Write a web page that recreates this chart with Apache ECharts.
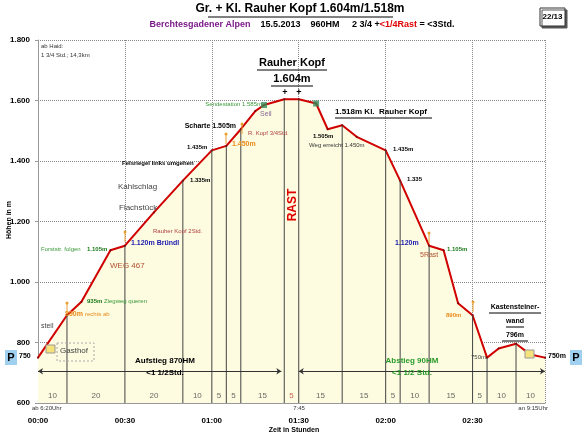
<!DOCTYPE html>
<html style="height:100%">
<head>
<meta charset="utf-8">
<script src="https://cdn.jsdelivr.net/npm/echarts@6/dist/echarts.min.js"></script>
</head>
<body style="height:100%;margin:0;background:#fff">
<div id="main" style="width:588px;height:440px"></div>
<script>
// profile: minutes since start, elevation in m
var times = [0, 10, 15, 25, 30, 40, 50, 60, 65, 70, 75, 78, 85, 90, 96, 100, 105, 110, 120, 125, 135, 140, 145, 150, 155, 159, 165, 170, 175];
var heights = [750, 890, 935, 1105, 1120, 1230, 1335, 1435, 1450, 1505, 1565, 1585, 1604, 1604, 1590, 1505, 1518, 1480, 1435, 1335, 1120, 1105, 930, 890, 750, 780, 796, 760, 750];
// section boundaries and durations
var sectionTimes = [10, 30, 50, 60, 65, 70, 85, 90, 105, 120, 125, 135, 150, 155, 165];
var sectionHeights = [890, 1120, 1335, 1435, 1450, 1505, 1604, 1604, 1518, 1435, 1335, 1120, 890, 750, 796];
var segMid = [5, 20, 40, 55, 62.5, 67.5, 77.5, 87.5, 97.5, 112.5, 122.5, 130, 142.5, 152.5, 160, 170];
var segLabels = ['10', '20', '20', '10', '5', '5', '15', '5', '15', '15', '5', '10', '15', '5', '10', '10'];

var F = 'Arial, "Liberation Sans", sans-serif';
function t(x, y, text, style) {
  return { type: 'text', z: 100, x: x, y: y, style: Object.assign({ text: text, font: '7px ' + F, fill: '#333' }, style || {}) };
}
function line(x1, y1, x2, y2, c) {
  return { type: 'line', z: 100, shape: { x1: x1, y1: y1, x2: x2, y2: y2 }, style: { stroke: c || '#000', lineWidth: 1 } };
}
function pbox(x) {
  return { type: 'group', z: 100, children: [
    { type: 'rect', z: 100, shape: { x: x, y: 350, width: 12, height: 15 }, style: { fill: '#9fd0f0' } },
    t(x + 6, 357.5, 'P', { font: 'bold 11px ' + F, fill: '#000', align: 'center', verticalAlign: 'middle' })
  ] };
}
function pin(x, y) {
  return { type: 'group', z: 100, children: [
    line(x, y, x, y + 10, '#e8a030'),
    { type: 'circle', z: 100, shape: { cx: x, cy: y, r: 1.5 }, style: { fill: '#e8a030' } }
  ] };
}

var option = {
  animation: false,
  grid: { left: 38, right: 43, top: 40, bottom: 37 },
  xAxis: {
    type: 'value', min: 0, max: 175, interval: 30,
    axisLine: { lineStyle: { color: '#999' } },
    axisTick: { show: false },
    axisLabel: { fontFamily: F, fontSize: 8, fontWeight: 'bold', color: '#000', margin: 14, showMaxLabel: false,
      formatter: function (v) { var h = Math.floor(v / 60), m = v % 60; return '0' + h + ':' + (m < 10 ? '0' : '') + m; } },
    splitLine: { show: true, lineStyle: { type: 'dotted', color: '#888' } }
  },
  yAxis: {
    type: 'value', min: 600, max: 1800, interval: 200,
    axisLine: { show: true, lineStyle: { color: '#999' } },
    axisTick: { show: true, length: 3 },
    axisLabel: { fontFamily: F, fontSize: 8, fontWeight: 'bold', color: '#000',
      formatter: function (v) { return v >= 1000 ? String(v).replace(/(\d)(\d{3})$/, '$1.$2') : String(v); } },
    splitLine: { show: true, lineStyle: { type: 'dotted', color: '#888' } }
  },
  series: [
    {
      type: 'line', data: times.map(function (x, i) { return [x, heights[i]]; }),
      symbol: 'circle', symbolSize: 2, showSymbol: true,
      itemStyle: { color: '#800000' },
      lineStyle: { color: '#d00000', width: 2 },
      areaStyle: { color: '#fdfbe0', opacity: 1 },
      z: 2,
      markLine: {
        silent: true, symbol: ['arrow', 'arrow'], symbolSize: 5, label: { show: false },
        lineStyle: { color: '#333', type: 'solid', width: 1 },
        data: [
          [{ coord: [0, 705] }, { coord: [84, 705] }],
          [{ coord: [90, 705] }, { coord: [175, 705] }]
        ]
      }
    },
    {
      type: 'custom', z: 3, silent: true,
      data: sectionTimes.map(function (x, i) { return [x, sectionHeights[i]]; }),
      renderItem: function (params, api) {
        var top = api.coord([api.value(0), api.value(1)]);
        var bot = api.coord([api.value(0), 600]);
        return { type: 'line', shape: { x1: top[0], y1: top[1], x2: bot[0], y2: bot[1] }, style: { stroke: '#444', lineWidth: 1 } };
      }
    },
    {
      type: 'scatter', symbolSize: 0, z: 4, silent: true,
      data: segMid.map(function (x, i) { return { value: [x, 625], label: { color: i === 7 ? '#c0392b' : '#444' } }; }),
      label: { show: true, position: 'inside', fontFamily: F, fontSize: 8,
        formatter: function (p) { return segLabels[p.dataIndex]; } }
    },
    {
      type: 'scatter', symbol: 'rect', symbolSize: 6, z: 5,
      itemStyle: { color: '#3a8a5a' },
      data: [[78, 1585], [96, 1590]]
    }
  ],
  graphic: [
    t(300, 3, 'Gr. + Kl. Rauher Kopf 1.604m/1.518m', { font: 'bold 12px ' + F, fill: '#000', align: 'center' }),
    line(208, 17, 393, 17),
    { type: 'text', z: 100, x: 302, y: 20, style: { align: 'center', font: 'bold 9px ' + F,
      rich: { a: { fill: '#7b1a8a', font: 'bold 9px ' + F }, b: { fill: '#000', font: 'bold 9px ' + F }, r: { fill: '#e00000', font: 'bold 9px ' + F } },
      text: '{a|Berchtesgadener Alpen}{b|    15.5.2013    960HM     2 3/4 +}{r|<1/4Rast}{b| = <3Std.}' } },
    { type: 'rect', z: 100, shape: { x: 540, y: 8, width: 25, height: 18 }, style: { fill: '#fff', stroke: '#333', lineWidth: 1, shadowColor: '#555', shadowOffsetX: 2, shadowOffsetY: 2 } },
    t(552.5, 17, '22/13', { font: 'bold 8px ' + F, fill: '#000', align: 'center', verticalAlign: 'middle' }),
    t(41, 43, 'ab Haid:', { font: '6px ' + F }),
    t(41, 52, '1 3/4 Std.; 14,3km', { font: '6px ' + F }),
    t(292, 57, 'Rauher Kopf', { font: 'bold 11px ' + F, fill: '#000', align: 'center' }),
    line(257, 70, 327, 70),
    t(292, 73, '1.604m', { font: 'bold 11px ' + F, fill: '#000', align: 'center' }),
    line(271, 86, 313, 86),
    t(285, 88, '+', { font: 'bold 9px ' + F, fill: '#000', align: 'center' }),
    t(299, 88, '+', { font: 'bold 9px ' + F, fill: '#000', align: 'center' }),
    t(262, 101, 'Sendestation 1.585m', { font: '6px ' + F, fill: '#3a9a3a', align: 'right' }),
    t(260, 111, 'Seil', { font: '7px ' + F, fill: '#8a6a9a' }),
    t(335, 108, '1.518m Kl.  Rauher Kopf', { font: 'bold 8px ' + F, fill: '#000' }),
    line(335, 118, 432, 118),
    t(236, 123, 'Scharte 1.505m', { font: 'bold 7px ' + F, fill: '#000', align: 'right' }),
    t(248, 130, 'R. Kopf 3/4Std.', { font: '6px ' + F, fill: '#b04040' }),
    t(232, 141, '1.450m', { font: 'bold 7px ' + F, fill: '#e88a1a' }),
    t(187, 144, '1.435m', { font: 'bold 6px ' + F, fill: '#000' }),
    t(122, 160, 'Felsriegel links umgehen', { font: 'bold 6px ' + F, fill: '#000' }),
    t(118, 183, 'Kahlschlag', { font: '8px ' + F, fill: '#444' }),
    t(119, 204, 'Flachstück', { font: '8px ' + F, fill: '#444' }),
    t(190, 177, '1.335m', { font: 'bold 6px ' + F, fill: '#000' }),
    t(153, 228, 'Rauher Kopf 2Std.', { font: '6px ' + F, fill: '#b04040' }),
    t(131, 240, '1.120m Bründl', { font: 'bold 7px ' + F, fill: '#1a1ab0' }),
    t(41, 246, 'Forststr. folgen ', { font: '6px ' + F, fill: '#3a9a3a' }),
    t(87, 246, '1.105m', { font: 'bold 6px ' + F, fill: '#1a7a1a' }),
    t(110, 262, 'WEG 467', { font: '8px ' + F, fill: '#b05030' }),
    t(87, 298, '935m', { font: 'bold 6px ' + F, fill: '#1a7a1a' }),
    t(104, 298, 'Ziegweg queren', { font: '6px ' + F, fill: '#3a9a3a' }),
    t(65, 311, '890m', { font: 'bold 7px ' + F, fill: '#e88a1a' }),
    t(85, 311, 'rechts ab', { font: '6px ' + F, fill: '#e88a1a' }),
    t(41, 323, 'steil', { font: '7px ' + F, fill: '#444' }),
    pin(67, 303), pin(125, 232), pin(226, 134), pin(242, 124), pin(429, 233), pin(473, 302),
    { type: 'rect', z: 100, shape: { x: 46, y: 345, width: 9, height: 8 }, style: { fill: '#f5e27a', stroke: '#999' } },
    { type: 'rect', z: 100, shape: { x: 57, y: 343, width: 37, height: 18 }, style: { fill: 'none', stroke: '#aaa', lineDash: [2, 2] } },
    t(60, 347, 'Gasthof', { font: '8px ' + F, fill: '#444' }),
    t(165, 357, 'Aufstieg 870HM', { font: 'bold 8px ' + F, fill: '#000', align: 'center' }),
    t(165, 369, '<1 1/2Std.', { font: 'bold 8px ' + F, fill: '#000', align: 'center' }),
    t(412, 357, 'Abstieg 90HM', { font: 'bold 8px ' + F, fill: '#2a9a2a', align: 'center' }),
    t(412, 369, '<1 1/2 Std.', { font: 'bold 8px ' + F, fill: '#2a9a2a', align: 'center' }),
    { type: 'text', z: 100, x: 293, y: 205, rotation: Math.PI / 2, style: { text: 'RAST', font: 'bold 12px ' + F, fill: '#e00000', align: 'center', verticalAlign: 'middle' } },
    t(313, 133, '1.505m', { font: 'bold 6px ' + F, fill: '#000' }),
    t(309, 142, 'Weg erreicht 1.450m', { font: '6px ' + F, fill: '#333' }),
    t(393, 146, '1.435m', { font: 'bold 6px ' + F, fill: '#000' }),
    t(407, 176, '1.335', { font: 'bold 6px ' + F, fill: '#000' }),
    t(395, 240, '1.120m', { font: 'bold 7px ' + F, fill: '#1a1ab0' }),
    t(420, 252, '5Rast', { font: '7px ' + F, fill: '#b05030' }),
    t(447, 246, '1.105m', { font: 'bold 6px ' + F, fill: '#1a7a1a' }),
    t(446, 312, '890m', { font: 'bold 6px ' + F, fill: '#e88a1a' }),
    t(515, 304, 'Kastensteiner-', { font: 'bold 7px ' + F, fill: '#000', align: 'center' }),
    line(489, 313, 541, 313),
    t(515, 318, 'wand', { font: 'bold 7px ' + F, fill: '#000', align: 'center' }),
    line(506, 327, 524, 327),
    t(515, 332, '796m', { font: 'bold 7px ' + F, fill: '#000', align: 'center' }),
    line(502, 341, 528, 341),
    { type: 'rect', z: 100, shape: { x: 525, y: 350, width: 9, height: 8 }, style: { fill: '#f5e27a', stroke: '#999' } },
    t(486, 354, '750m', { font: '6px ' + F, fill: '#444', align: 'right' }),
    t(548, 353, '750m', { font: 'bold 7px ' + F, fill: '#000' }),
    t(19, 353, '750', { font: 'bold 7px ' + F, fill: '#000' }),
    pbox(5), pbox(570),
    t(32, 405, 'ab 6:20Uhr', { font: '6px ' + F, fill: '#333' }),
    t(299, 405, '7:45', { font: '6px ' + F, fill: '#333', align: 'center' }),
    t(548, 405, 'an 9:15Uhr', { font: '6px ' + F, fill: '#333', align: 'right' }),
    t(294, 427, 'Zeit in Stunden', { font: 'bold 7px ' + F, fill: '#000', align: 'center' }),
    { type: 'text', z: 100, x: 9, y: 220, rotation: Math.PI / 2, style: { text: 'Höhen in m', font: 'bold 7px ' + F, fill: '#000', align: 'center', verticalAlign: 'middle' } }
  ]
};

echarts.init(document.getElementById('main')).setOption(option);
</script>
</body>
</html>
